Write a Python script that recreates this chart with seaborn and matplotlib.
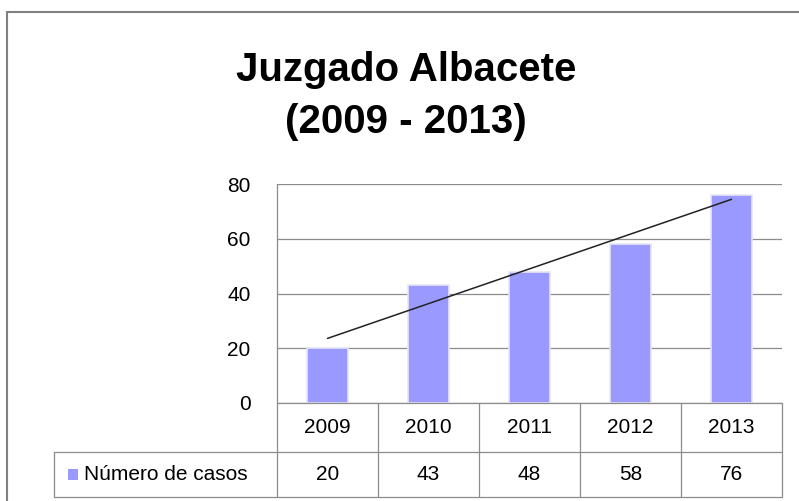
import numpy as np
import matplotlib
matplotlib.use("Agg")
import matplotlib.pyplot as plt
import seaborn as sns
from matplotlib.lines import Line2D
from matplotlib.patches import Rectangle


years = ["2009", "2010", "2011", "2012", "2013"]
casos = [20, 43, 48, 58, 76]
serie = "Número de casos"
titulo = "Juzgado Albacete\n(2009 - 2013)"

BAR = "#9999FF"
GRID = "#8c8c8c"

sns.set_style("white")
plt.rcParams["font.family"] = ["Liberation Sans", "DejaVu Sans"]
plt.rcParams["text.color"] = "black"
plt.rcParams["ytick.color"] = "black"

fig = plt.figure(figsize=(7.99, 5.01), dpi=100)
W, H = 799, 501
# plot area in pixels: x 277..782, y 184..403
ax = fig.add_axes([277 / W, 1 - 403 / H, (782 - 277) / W, (403 - 184) / H])

sns.barplot(x=years, y=casos, color=BAR, width=0.4, edgecolor="#e6e6f5", linewidth=1.2,
            saturation=1, ax=ax, zorder=2)
# linear trend line
sns.regplot(x=np.arange(len(casos)), y=casos, scatter=False, ci=None, truncate=True,
            color="#222222", line_kws={"linewidth": 1.1, "zorder": 3}, ax=ax)

ax.set_xlim(-0.5, len(years) - 0.5)
ax.set_ylim(0, 80)
ax.set_yticks([0, 20, 40, 60, 80])
ax.yaxis.grid(True, color=GRID, linewidth=0.9)
ax.set_axisbelow(True)
ax.set_xticks([])
ax.set_xlabel("")
ax.set_ylabel("")
ax.tick_params(axis="y", labelsize=15, length=0, pad=19)
for s in ["top", "right", "bottom"]:
    ax.spines[s].set_visible(False)
ax.spines["left"].set_color(GRID)
ax.spines["left"].set_linewidth(0.9)

# data table below the axes (x in data units, y in axes fraction)
tr = ax.get_xaxis_transform()
ppx = (403 - 184)
r0, r1, r2 = 0.0, -(452 - 403) / ppx, -(497 - 403) / ppx
xl = -0.5 - (277 - 54) / ((782 - 277) / len(years))
xr = len(years) - 0.5
lines = [
    ([-0.5, xr], [r0, r0]),
    ([xl, xr], [r1, r1]),
    ([xl, xr], [r2, r2]),
    ([xl, xl], [r1, r2]),
]
for i in range(len(years) + 1):
    lines.append(([i - 0.5, i - 0.5], [r0, r2]))
for xs, ys in lines:
    ax.add_line(Line2D(xs, ys, transform=tr, color=GRID, linewidth=0.9, clip_on=False))

for i, (yr, v) in enumerate(zip(years, casos)):
    ax.text(i, (r0 + r1) / 2, yr, transform=tr, ha="center", va="center", fontsize=15)
    ax.text(i, (r1 + r2) / 2, str(v), transform=tr, ha="center", va="center", fontsize=15)

# legend key + series name in the row header
ax.add_patch(Rectangle((xl + 0.14, (r1 + r2) / 2 - 0.025), 0.1, 0.05, transform=tr,
                       facecolor=BAR, edgecolor="none", clip_on=False))
ax.text(xl + 0.3, (r1 + r2) / 2, serie, transform=tr, ha="left", va="center", fontsize=15)

# title
fig.text(406 / W, 1 - 96 / H, titulo, ha="center", va="center", fontsize=29,
         fontweight="bold", linespacing=1.45)

# chart area border (left and top visible)
fig.add_artist(Line2D([7 / W, 7 / W], [0, 1 - 12 / H], transform=fig.transFigure,
                      color="#808080", linewidth=1.5))
fig.add_artist(Line2D([7 / W, 1], [1 - 12 / H, 1 - 12 / H], transform=fig.transFigure,
                      color="#808080", linewidth=1.5))

fig.savefig("out.png", dpi=100)
